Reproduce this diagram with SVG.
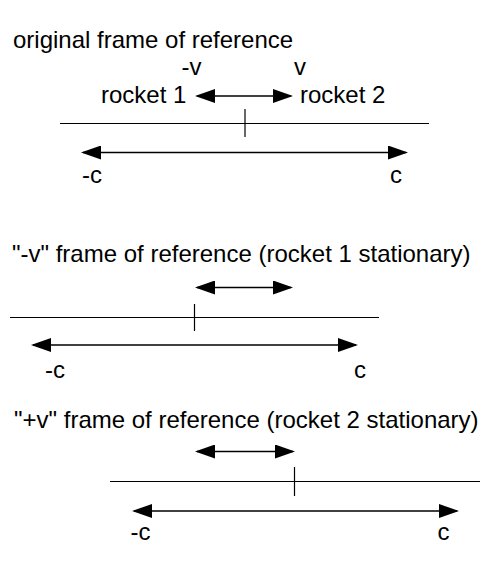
<svg xmlns="http://www.w3.org/2000/svg" width="500" height="578" viewBox="0 0 500 578">
<style>
text{font-family:"Liberation Sans",Arial,sans-serif;fill:#000;font-size:24px}
.ax{stroke:#000;stroke-width:1.2;fill:none}
.ar{stroke:#000;stroke-width:1.4;fill:none;marker-start:url(#ah);marker-end:url(#ah)}
</style>
<defs>
<marker id="ah" viewBox="0 0 20 14" refX="18" refY="7" markerWidth="20" markerHeight="14" markerUnits="userSpaceOnUse" orient="auto-start-reverse">
<path d="M0,0 L20,7 L0,14 z" fill="#000"/>
</marker>
</defs>
<rect width="500" height="578" fill="#fff"/>
<g id="frame-original">
<text x="13" y="48">original frame of reference</text>
<text x="181.5" y="75">-v</text>
<text x="294" y="75">v</text>
<text x="101" y="103">rocket 1</text>
<text x="300" y="103">rocket 2</text>
<text x="82" y="183">-c</text>
<text x="390" y="183">c</text>
</g>
<g id="frame-minus-v">
<text x="12" y="262">"-v" frame of reference (rocket 1 stationary)</text>
<text x="45" y="378">-c</text>
<text x="354" y="378">c</text>
</g>
<g id="frame-plus-v">
<text x="14" y="428">"+v" frame of reference (rocket 2 stationary)</text>
<text x="130.5" y="540">-c</text>
<text x="437.5" y="540">c</text>
</g>
<g id="connectors">
<line class="ar" x1="197" y1="96" x2="291" y2="96"/>
<line class="ax" x1="60" y1="123.5" x2="429" y2="123.5"/>
<line class="ax" x1="245" y1="109" x2="245" y2="137"/>
<line class="ar" x1="83" y1="152.5" x2="406" y2="152.5"/>

<line class="ar" x1="197" y1="287.5" x2="291" y2="287.5"/>
<line class="ax" x1="10" y1="317.5" x2="379" y2="317.5"/>
<line class="ax" x1="194.5" y1="304" x2="194.5" y2="331"/>
<line class="ar" x1="33" y1="345" x2="356" y2="345"/>

<line class="ar" x1="197" y1="451.5" x2="293" y2="451.5"/>
<line class="ax" x1="110" y1="481.5" x2="480" y2="481.5"/>
<line class="ax" x1="294.5" y1="467" x2="294.5" y2="496"/>
<line class="ar" x1="134" y1="511" x2="457" y2="511"/>
</g>
</svg>
